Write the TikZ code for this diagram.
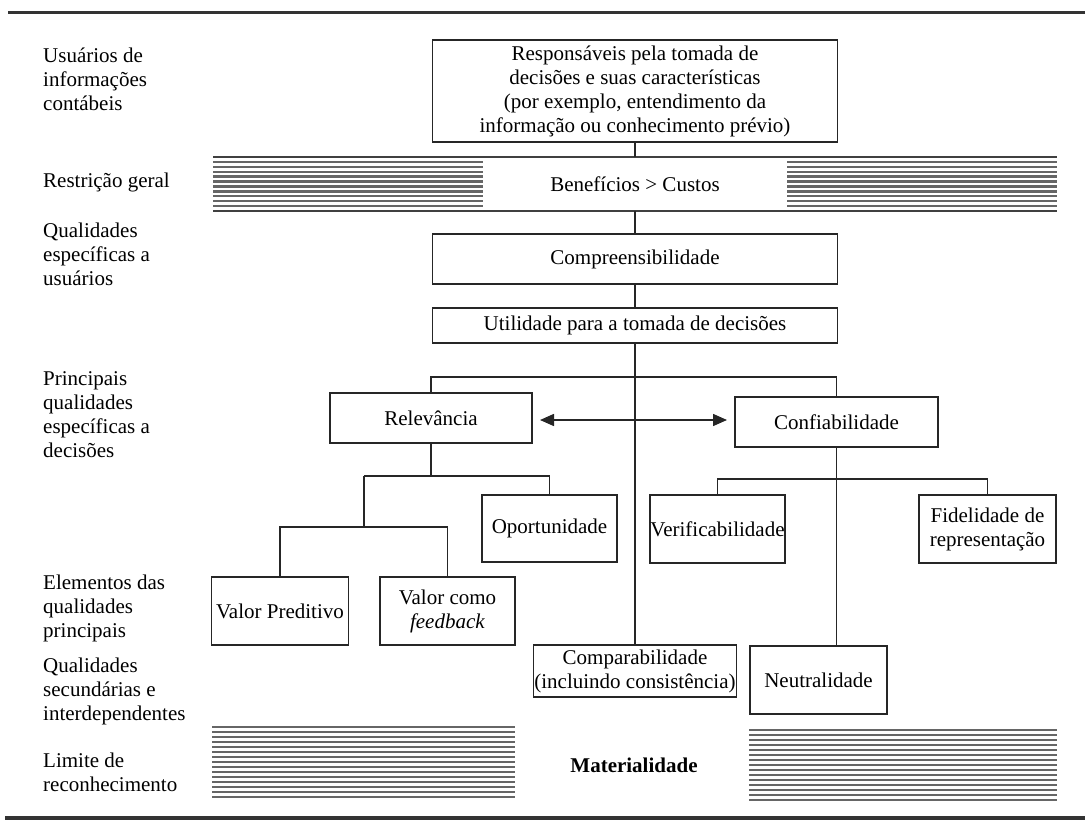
\documentclass[tikz,border=0pt]{standalone}
\usepackage{fontspec}
\setmainfont{Liberation Serif}
\usetikzlibrary{arrows.meta,calc}
\begin{document}
\begin{tikzpicture}[x=1pt,y=-1pt,
  every node/.style={font=\fontsize{21}{24}\selectfont, inner sep=0pt},
  box/.style={draw=black!85, line width=1.5pt, align=center, fill=white},
  lab/.style={anchor=west, align=left},
  conn/.style={draw=black!85, line width=1.5pt},
  hatchline/.style={draw=black!60, line width=2.3pt},
  hatchedge/.style={draw=black!75, line width=2pt},
  rulebar/.style={draw=black!80, line width=3pt},
  tip/.style={{Triangle[length=14pt,width=12pt]}-{Triangle[length=14pt,width=12pt]}}]
\useasboundingbox (0,0) rectangle (1085,824);

% horizontal rules
\draw[rulebar] (8,13) -- (1085,13);
\draw[rulebar, line width=4pt] (5,818) -- (1085,818);

% left labels
\node[lab] (l1) at (43,82) {\strut Usuários de\\informações\\contábeis\strut};
\node[lab] (l2) at (43,183) {\strut Restrição geral\strut};
\node[lab] (l3) at (43,257) {\strut Qualidades\\específicas a\\usuários\strut};
\node[lab] (l4) at (43,417) {\strut Principais\\qualidades\\específicas a\\decisões\strut};
\node[lab] (l5) at (43,609) {\strut Elementos das\\qualidades\\principais\strut};
\node[lab] (l6) at (43,692) {\strut Qualidades\\secundárias e\\interdependentes\strut};
\node[lab] (l7) at (43,775) {\strut Limite de\\reconhecimento\strut};

% hatched bars (general constraint)
\foreach \i in {0,...,11} {
  \draw[hatchline] (213,{157+\i*54/11}) -- (483,{157+\i*54/11});
  \draw[hatchline] (787,{157+\i*54/11}) -- (1057,{157+\i*54/11});
}
\draw[hatchedge] (213,157) -- (1057,157);
\draw[hatchedge] (213,211) -- (1057,211);

% hatched bars (recognition threshold)
\foreach \i in {0,...,14} {
  \draw[hatchline] (212,{727+\i*70/14}) -- (515,{727+\i*70/14});
  \draw[hatchline] (749,{730+\i*70/14}) -- (1057,{730+\i*70/14});
}

% boxes
\node[box, minimum width=405pt, minimum height=102pt] (top) at (635,91)
  {Responsáveis pela tomada de\\decisões e suas características\\(por exemplo, entendimento da\\informação ou conhecimento prévio)};
\node[minimum width=304pt, minimum height=54pt] (bc) at (635,184) {Benefícios > Custos};
\node[box, minimum width=405pt, minimum height=50pt] (comp) at (635,259) {Compreensibilidade};
\node[box, minimum width=405pt, minimum height=35pt] (util) at (635,325.5) {Utilidade para a tomada de decisões};
\node[box, minimum width=202pt, minimum height=50pt] (rel) at (431,418) {Relevância};
\node[box, minimum width=203pt, minimum height=50pt] (conf) at (836.5,422) {Confiabilidade};
\node[box, minimum width=135pt, minimum height=67pt] (oport) at (549.5,528.5) {Oportunidade};
\node[box, minimum width=135pt, minimum height=68pt] (verif) at (717.5,529) {Verificabilidade};
\node[box, minimum width=137pt, minimum height=68pt] (fidel) at (987.5,529) {Fidelidade de\\representação};
\node[box, minimum width=137pt, minimum height=68pt] (vp) at (280,611) {Valor Preditivo};
\node[box, minimum width=135pt, minimum height=68pt] (vf) at (447.5,611) {Valor como\\\textit{feedback}};
\node[box, minimum width=203pt, minimum height=52pt] (compar) at (635,671) {Comparabilidade\\(incluindo consistência)};
\node[box, minimum width=137pt, minimum height=68pt] (neut) at (818.5,680) {Neutralidade};
\node[font=\fontsize{21}{24}\selectfont\bfseries] (mat) at (634,765) {Materialidade};

% connectors
\coordinate (br) at (635,377);
\coordinate (rbL) at (364,476);
\coordinate (vbL) at (364,527);
\coordinate (cb) at (836.5,479);
\coordinate (al) at (540,420);
\coordinate (ar) at (727,420);

\draw[conn] (top.south) -- (bc.north);
\draw[conn] (bc.south) -- (comp.north);
\draw[conn] (comp.south) -- (util.north);
\draw[conn] (util.south) -- (compar.north);
\draw[conn] (rel.north) |- (br) -| (conf.north);
\draw[conn, tip] (al) -- (ar);
\draw[conn] (rel.south) -- (rel.south |- rbL);
\draw[conn] (rbL) -| (oport.north);
\draw[conn] (rbL) -- (vbL);
\draw[conn] (vp.north) |- (vbL) -| (vf.north);
\draw[conn] (conf.south) -- (conf.south |- neut.north);
\draw[conn] (verif.north) |- (cb) -| (fidel.north);
\end{tikzpicture}
\end{document}
